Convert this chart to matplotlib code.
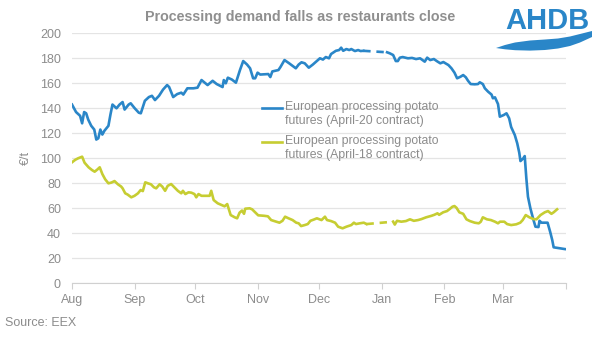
import numpy as np
import matplotlib
matplotlib.use("Agg")
import matplotlib.pyplot as plt
from matplotlib.patches import Polygon

plt.rcParams['font.family'] = ['Liberation Sans', 'DejaVu Sans']

# ---- data (days since 1 Aug 2019, €/t) ----
nan = float('nan')
blue_days = [0, 2, 4, 5, 6, 7, 8, 9.5, 11, 12, 13, 14, 15, 16, 18, 19, 20, 22, 23.5, 25, 26, 28, 29, 31,
             33, 34, 36, 38, 39.5, 41, 43, 45, 47, 48, 50, 52, 54, 55, 57, 60, 62, 64, 67, 69.5, 71.5,
             74.4, 75, 76, 77, 79, 81, 83, 84.6, 86.5, 88, 89.5, 90.5, 91.7, 93, 97, 98, 99, 102, 103,
             105, 107.3, 110.6, 112, 113.4, 115, 117, 119, 121, 122.5, 124, 125.4, 127, 128, 130.4, 132,
             133, 134, 135.6, 137, 138, 139.8, 141.4, 142.6, 143.9, 150, 155.7, 157, 158.7, 160, 161,
             162, 163.4, 166, 168, 170, 172, 174.3, 175.5, 177, 178.8, 180.5, 182, 183.5, 186, 187.5,
             189, 190.3, 192, 193.3, 194.6, 195.7, 197, 199, 200.6, 201.5, 203, 204, 205.6, 207.3, 208,
             209, 209.8, 210.5, 211.4, 213.3, 214.7, 216, 217, 218.8, 220, 221, 221.6, 223, 223.7,
             224.5, 225.3, 226.5, 227.8, 229, 230.5, 231, 232, 235, 236.3, 237.3, 238, 241, 243.5]
blue_vals = [143, 137, 134, 128, 137, 136, 131, 126, 123, 115, 116, 123, 119, 122, 126, 135, 143, 140, 143,
             145, 139, 143, 144, 140, 136.5, 136, 146, 149, 150, 146.6, 150, 155, 158.6, 157, 149, 151.4,
             152.5, 151, 156, 156, 156.5, 162.6, 158.6, 162, 159.4, 157, 162.6, 160, 164.5, 163, 160.5,
             170.6, 177.8, 175, 172, 164, 164, 168.5, 167, 167.4, 165, 169.5, 170.6, 173, 178.6, 176,
             172, 175, 176.8, 176, 172.5, 175, 177.8, 180, 179, 181, 180, 183.4, 186, 186.6, 188.5, 186,
             187.4, 186.6, 187.4, 185.8, 186.6, 185.8, 186, nan, 184.8, 184, 182.6, 177.8, 177.8, 180.5,
             181, 180, 180.3, 179.4, 180, 177.3, 180.5, 178.6, 179.4, 177.5, 176, 177, 174.6, 172,
             168.5, 164, 165.3, 166.6, 164.8, 162, 159.4, 159.2, 159.4, 160.8, 159.4, 156, 153.3, 151,
             148, 148.8, 146, 143.4, 133.3, 134.6, 136, 132, 125, 118.6, 112, 104.5, 97.8, 100, 101.8,
             84, 69.3, 60, 52, 45.3, 45, 50, 48.5, 48.5, 41, 34.6, 28.8, 28, 27.4]

yellow_days = [0, 1.6, 3, 5, 6.2, 8.2, 9.9, 11.2, 12.5, 13.7, 15, 16.4, 18, 19.5, 21, 22.7, 24.3, 25, 26.3,
               27.5, 29.3, 30.9, 32.6, 33.9, 35, 36.2, 37.5, 39, 40.5, 41.6, 43.3, 44.6, 46, 47.3, 49,
               50.6, 52.3, 54, 54.8, 56, 57.6, 59, 60.5, 61.4, 62.5, 64, 67, 68, 68.8, 70, 72, 74, 75.4,
               76.7, 78.4, 80.4, 81.6, 82.8, 84, 85, 85.6, 87.8, 89, 91, 92, 95, 96.8, 98.4, 100, 102.5,
               104, 105.3, 107, 109, 110.8, 112, 113.2, 115, 116.5, 117.8, 119.5, 121, 123.3, 125, 126,
               128, 130, 131.5, 133.7, 135.6, 138, 139.3, 140.3, 142.2, 144.2, 145.5, 152, 158.7, 159.5,
               160.6, 162.7, 165, 167, 168.9, 171, 172.7, 175, 177.6, 179, 180.6, 181.4, 183.4, 185.3,
               186.6, 188, 189, 190, 191.4, 193.3, 194.9, 196.6, 199, 201, 202, 203, 205, 207, 209,
               210.5, 211.5, 213.6, 215, 217, 219.5, 221.5, 222.7, 224.2, 226, 228, 229.5, 231.5, 233.6,
               235.2, 236.9, 238, 239.7]
yellow_vals = [96.8, 98.8, 100, 101.3, 96.5, 92.8, 90.6, 89.3, 91, 92.8, 87.4, 83.2, 80, 80.6, 81.8, 79.2,
               77.4, 76, 72, 71, 68.8, 70, 72, 74.6, 73.8, 80.8, 80, 79.2, 76.8, 76, 79.2, 77.4, 74, 78,
               79.4, 76.8, 74, 72, 74, 71.4, 72.8, 72.5, 71.4, 68.8, 71.4, 70, 70, 70, 74, 66.6, 64, 62.6,
               61.6, 63.4, 54.6, 52.8, 52, 56.5, 58.2, 55.6, 59.7, 60, 59.2, 56, 54.4, 54, 53.6, 50.6,
               49.8, 48.5, 50, 53.3, 52, 50.6, 48.5, 48, 45.8, 46.6, 47.4, 50, 51, 52, 50.6, 53.3, 50.6,
               49.8, 48.5, 45.3, 44, 45.3, 46.6, 48.5, 47.4, 48, 48.5, 47.4, nan, 49.3, 47, 50, 49.3, 49.8,
               51.2, 50, 50.6, 51.4, 52.8, 54, 54.8, 56, 54.8, 56.8, 57.8, 59.4, 61.3, 61.8, 60.4, 56.8,
               55.6, 51.2, 49.8, 48.5, 48, 49.3, 52.8, 51.2, 50.6, 49.3, 48, 49.3, 49.3, 47.4, 46.6, 47.2,
               48.5, 50.6, 54.6, 52.8, 51.4, 51.2, 54.6, 56.8, 57.8, 55.6, 56.8, 59.2]

month_starts = [0, 31, 61, 92, 122, 153, 184, 213, 244]
month_labels = ['Aug', 'Sep', 'Oct', 'Nov', 'Dec', 'Jan', 'Feb', 'Mar', '']
y_ticks = [0, 20, 40, 60, 80, 100, 120, 140, 160, 180, 200]

label_blue = "European processing potato\nfutures (April-20 contract)"
label_yellow = "European processing potato\nfutures (April-18 contract)"

BLUE = '#2A86C8'
YELLOW = '#C6CD32'
GREY = '#8C8C8C'

fig = plt.figure(figsize=(6.0, 3.44), dpi=100)
ax = fig.add_axes([0.12, 0.1764, 0.823, 0.7268])


def draw(days, vals, color):
    d = np.array(days, dtype=float)
    v = np.array(vals, dtype=float)
    ax.plot(d, v, color=color, lw=1.9, solid_joinstyle='round', zorder=3)
    gaps = np.where(np.isnan(v))[0]
    for g in gaps:
        ax.plot([d[g - 1], d[g + 1]], [v[g - 1], v[g + 1]], color=color, lw=1.9,
                dashes=(2.8, 2.2), zorder=3)


draw(blue_days, blue_vals, BLUE)
draw(yellow_days, yellow_vals, YELLOW)

ax.set_xlim(0, 244)
ax.set_ylim(0, 200)
ax.set_yticks(y_ticks)
ax.set_xticks(month_starts)
ax.set_xticklabels([])
for xs, lab in zip(month_starts, month_labels):
    ax.text(xs, -8.5, lab, ha='center', va='top', fontsize=9, color=GREY)

ax.grid(axis='y', color='#E4E4E4', lw=0.9)
ax.set_axisbelow(True)
for s in ['top', 'right', 'left']:
    ax.spines[s].set_visible(False)
ax.spines['bottom'].set_color('#D0D0D0')
ax.tick_params(axis='y', length=0, labelsize=9, labelcolor=GREY, pad=8)
ax.tick_params(axis='x', length=4, color='#D0D0D0', width=0.8)

ax.set_ylabel('€/t', fontsize=9, color=GREY, labelpad=6)

# legend drawn manually
for yy, lab, col in [(0.702, label_blue, BLUE), (0.566, label_yellow, YELLOW)]:
    ax.plot([0.385, 0.425], [yy, yy], transform=ax.transAxes, color=col, lw=1.9, clip_on=False)
    ax.text(0.431, yy + 0.028, lab, transform=ax.transAxes, ha='left', va='top',
            fontsize=8.8, color=GREY, linespacing=1.2)

fig.text(0.50, 0.95, 'Processing demand falls as restaurants close', ha='center', va='center',
         fontsize=10.3, fontweight='bold', color='#8F8F8F')
fig.text(0.008, 0.062, 'Source: EEX', ha='left', va='center', fontsize=9, color=GREY)

# AHDB logo (text + wave swoosh)
fig.text(547 / 600, 1 - 29 / 344, 'AHDB', ha='center', va='baseline', fontsize=21, color=BLUE,
         fontweight='bold')
wx = np.linspace(496, 592, 80)
top = np.interp(wx, [496, 505, 515, 530, 545, 558, 570, 580, 592],
                [48, 45, 42.5, 40.5, 39.5, 38.5, 36.5, 34, 31])
bot = np.interp(wx, [496, 505, 515, 530, 545, 558, 570, 580, 592],
                [48, 49.3, 50.2, 50.6, 50, 48.5, 46, 42.5, 37])
px = np.concatenate([wx, wx[::-1]]) / 600
py = 1 - np.concatenate([top, bot[::-1]]) / 344
fig.patches.append(Polygon(np.column_stack([px, py]), closed=True, transform=fig.transFigure,
                           facecolor=BLUE, edgecolor='none'))

fig.savefig('out.png', dpi=100)
